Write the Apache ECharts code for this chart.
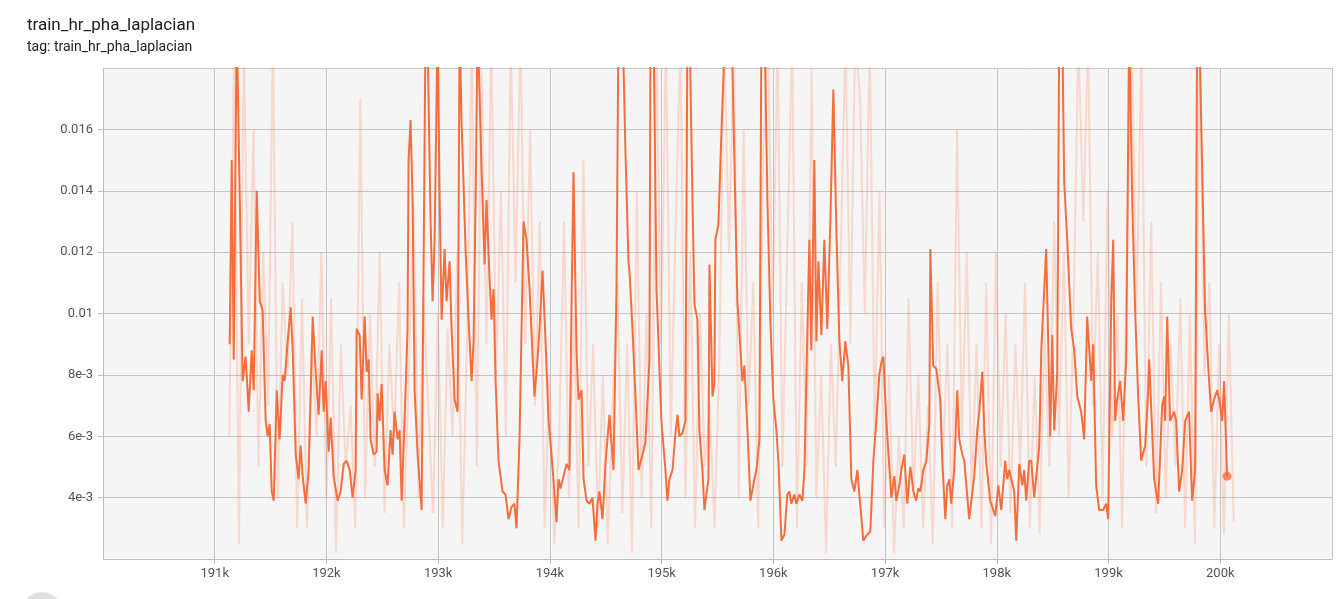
<!DOCTYPE html>
<html>
<head>
<meta charset="utf-8">
<script src="https://cdn.jsdelivr.net/npm/echarts@6/dist/echarts.min.js"></script>
<style>
  html, body { margin: 0; padding: 0; background: #fff; }
  #chart { width: 1342px; height: 599px; }
</style>
</head>
<body>
<div id="chart"></div>
<script>
const title = "train_hr_pha_laplacian";
const subtitle = "tag: train_hr_pha_laplacian";
const baseStep = 191000;

// smoothed line: step offsets from 191000
const smoothedSteps = [
  134, 152, 170, 197, 224, 250, 277, 304, 331, 349, 376, 403, 429, 456, 474, 492, 510, 528, 555, 581,
  608, 626, 653, 680, 698, 725, 751, 769, 787, 814, 841, 877, 903, 930, 957, 975, 993, 1020, 1038, 1064,
  1100, 1127, 1154, 1181, 1208, 1234, 1261, 1270, 1297, 1315, 1342, 1360, 1378, 1395, 1422, 1449, 1458, 1476, 1494, 1521,
  1547, 1574, 1592, 1610, 1637, 1655, 1673, 1700, 1726, 1735, 1753, 1771, 1789, 1816, 1852, 1887, 1905, 1932, 1950, 1968,
  1995, 2013, 2031, 2057, 2075, 2102, 2120, 2147, 2174, 2192, 2209, 2245, 2272, 2299, 2317, 2335, 2353, 2388, 2415, 2433,
  2460, 2478, 2496, 2514, 2540, 2576, 2603, 2630, 2657, 2683, 2701, 2728, 2764, 2791, 2818, 2845, 2862, 2889, 2907, 2934,
  2961, 2988, 3014, 3032, 3059, 3077, 3095, 3122, 3149, 3175, 3193, 3211, 3238, 3256, 3283, 3301, 3328, 3354, 3381, 3408,
  3426, 3444, 3471, 3497, 3533, 3569, 3596, 3614, 3650, 3676, 3703, 3712, 3739, 3766, 3793, 3828, 3855, 3891, 3900, 3927,
  3954, 3998, 4034, 4052, 4070, 4097, 4124, 4142, 4159, 4186, 4213, 4231, 4249, 4276, 4294, 4320, 4338, 4365, 4383, 4419,
  4428, 4455, 4472, 4481, 4508, 4535, 4571, 4625, 4678, 4723, 4741, 4768, 4795, 4830, 4848, 4875, 4893, 4920, 4947, 4973,
  5000, 5027, 5045, 5072, 5099, 5125, 5143, 5161, 5188, 5206, 5233, 5260, 5278, 5322, 5340, 5367, 5385, 5403, 5430, 5456,
  5483, 5510, 5537, 5564, 5591, 5617, 5644, 5671, 5698, 5725, 5752, 5770, 5805, 5841, 5868, 5895, 5922, 5948, 5966, 5984,
  6011, 6029, 6056, 6083, 6100, 6127, 6145, 6172, 6199, 6226, 6253, 6279, 6297, 6315, 6342, 6369, 6396, 6405, 6431, 6458,
  6494, 6512, 6539, 6557, 6575, 6592, 6619, 6646, 6664, 6691, 6709, 6753, 6798, 6825, 6843, 6870, 6888, 6906, 6941, 6986,
  7013, 7040, 7075, 7093, 7111, 7156, 7174, 7201, 7228, 7245, 7263, 7290, 7308, 7335, 7380, 7398, 7442, 7478, 7496, 7514,
  7541, 7559, 7585, 7603, 7630, 7666, 7693, 7720, 7755, 7782, 7809, 7845, 7863, 7889, 7916, 7952, 7979, 7997, 8024, 8042,
  8059, 8077, 8104, 8131, 8158, 8185, 8212, 8238, 8265, 8292, 8328, 8355, 8364, 8408, 8444, 8480, 8498, 8507, 8525, 8551,
  8587, 8605, 8632, 8659, 8686, 8721, 8748, 8775, 8793, 8811, 8838, 8864, 8900, 8918, 8945, 8972, 8990, 9017, 9034, 9061
];

// smoothed values, in units of 1e-3
const smoothed = [
  9.0, 15.0, 8.5, 19.5, 13.7, 7.8, 8.6, 6.8, 8.8, 7.5, 14.0, 10.4, 10.1, 6.5, 6.0, 6.4, 4.2, 3.9, 7.5, 5.9,
  8.0, 7.8, 9.1, 10.2, 8.8, 5.4, 4.6, 5.7, 4.7, 3.8, 4.9, 9.9, 8.1, 6.7, 8.8, 6.8, 7.8, 5.5, 6.6, 4.7,
  3.9, 4.2, 5.1, 5.2, 4.9, 4.0, 4.9, 9.5, 9.3, 7.2, 9.9, 8.1, 8.5, 5.9, 5.4, 5.5, 7.4, 6.5, 7.7, 4.9,
  4.4, 6.2, 5.4, 6.8, 5.9, 6.2, 3.9, 6.6, 9.5, 15.0, 16.3, 13.7, 7.5, 5.4, 3.6, 19.5, 19.0, 13.0, 10.4, 12.4,
  19.5, 13.7, 9.8, 12.1, 10.4, 11.7, 9.5, 7.2, 6.8, 19.5, 16.3, 12.1, 9.8, 7.8, 9.1, 13.7, 19.5, 14.7, 11.6, 13.7,
  11.1, 9.8, 10.8, 7.8, 5.2, 4.2, 4.1, 3.3, 3.7, 3.8, 3.0, 5.9, 13.0, 12.4, 10.8, 8.6, 7.3, 8.5, 9.5, 11.4,
  9.1, 6.5, 5.4, 4.6, 3.2, 4.6, 4.3, 4.7, 5.1, 4.9, 10.1, 14.6, 8.8, 7.2, 7.5, 4.6, 3.9, 3.8, 4.0, 2.6,
  3.8, 4.2, 3.3, 5.1, 6.7, 4.9, 10.8, 19.5, 19.5, 15.3, 11.7, 11.4, 9.5, 7.3, 4.9, 5.4, 5.8, 8.5, 19.0, 19.5,
  10.8, 6.5, 4.9, 3.9, 4.6, 4.9, 6.1, 6.7, 6.0, 6.1, 6.5, 19.5, 19.5, 13.7, 10.3, 9.8, 6.2, 4.9, 3.6, 4.6,
  11.6, 7.3, 7.7, 12.4, 12.9, 15.9, 19.5, 19.5, 10.4, 7.8, 8.3, 6.2, 3.9, 4.6, 4.9, 5.9, 19.5, 19.5, 13.7, 9.8,
  7.2, 6.2, 5.2, 2.6, 2.8, 4.1, 4.2, 3.8, 4.1, 3.8, 4.1, 3.9, 4.9, 12.4, 8.8, 15.0, 9.1, 11.7, 9.3, 12.4,
  9.5, 13.0, 17.3, 12.7, 9.1, 7.8, 9.1, 8.3, 4.6, 4.2, 4.9, 4.1, 2.6, 2.8, 2.9, 5.2, 6.5, 8.0, 8.4, 8.6,
  6.5, 5.5, 4.0, 4.7, 3.9, 4.4, 4.9, 5.4, 3.8, 5.0, 4.2, 3.9, 4.3, 4.2, 4.9, 5.2, 6.4, 12.1, 8.3, 8.2,
  7.2, 5.2, 3.3, 4.4, 4.6, 3.8, 4.9, 7.5, 5.9, 5.4, 5.2, 3.3, 4.7, 6.2, 6.8, 8.1, 6.2, 5.1, 3.9, 3.4,
  4.4, 3.6, 5.2, 4.6, 4.9, 4.2, 2.6, 5.1, 4.4, 4.9, 3.9, 5.2, 5.2, 4.0, 5.7, 8.8, 12.1, 6.0, 9.3, 6.2,
  8.1, 19.5, 19.5, 14.3, 12.4, 9.5, 8.8, 7.3, 6.8, 5.9, 9.9, 7.8, 9.0, 4.4, 3.6, 3.6, 3.8, 3.3, 10.4, 12.4,
  6.5, 7.2, 7.8, 6.5, 8.5, 19.5, 13.7, 10.1, 7.3, 5.2, 5.7, 7.5, 8.5, 4.6, 3.8, 7.0, 7.3, 6.5, 9.9, 6.5,
  6.8, 6.5, 4.2, 4.9, 6.5, 6.8, 3.9, 4.9, 19.5, 19.5, 14.7, 10.1, 7.8, 6.8, 7.2, 7.5, 7.2, 6.5, 7.8, 4.7
];

// raw values, in units of 1e-3, logged at even steps from 191130 to 200120
const rawFirstStep = 191130;
const rawLastStep = 200120;
const raw = [
  6.0, 18.5, 2.5, 19, 9, 16, 5, 12, 7, 19, 4, 11, 8, 13, 3,
  10.5, 3, 9, 6, 12, 4, 10.5, 2.2, 9, 5, 7, 3,
  17, 4, 10, 5, 12, 3.5, 9, 6, 11, 3, 8, 13.5, 4, 10.5,
  7, 3.5, 10, 3, 9.5, 6, 12, 2.5, 9, 19, 5, 18,
  9, 19, 8, 14, 6, 19, 11, 19, 9, 16, 7, 13,
  3, 8, 2.5, 6, 13, 4, 10, 3, 15, 5, 9,
  3, 8, 2.5, 7, 11, 3.5, 9, 2.2, 14, 4, 10,
  3, 19, 9, 19, 6, 13, 19, 4, 12, 3, 10, 5,
  7, 3, 8.5, 19, 12, 19, 4, 16, 7, 11, 3,
  15, 19, 10, 19, 5, 12, 19, 3, 11, 5, 18,
  4, 8, 2.2, 9, 5, 12, 19, 9, 19, 17,
  10, 19, 6, 14, 3, 8, 2.2, 6, 3, 10.5, 4,
  8, 3, 7, 2.5, 11, 5, 9, 3, 16, 6, 12,
  4, 9, 3, 11, 2.5, 12, 5, 10, 3.5, 9, 5,
  11, 3, 8, 2.8, 9.5, 5, 13, 6, 12, 4, 10,
  19, 13, 19, 7, 12, 4, 14, 6, 10, 3,
  12, 19, 10, 19, 5, 13, 3.5, 11, 4, 9,
  5, 10.5, 3, 10, 2.5, 19, 8, 11, 3, 9, 2.8, 10, 3.2
];

const pointCount = Math.min(smoothedSteps.length, smoothed.length);
const smoothedData = [];
for (let i = 0; i < pointCount; i++) {
  smoothedData.push([baseStep + smoothedSteps[i], smoothed[i] / 1000]);
}
const rawData = raw.map((v, i) => [
  Math.round(rawFirstStep + (i * (rawLastStep - rawFirstStep)) / (raw.length - 1)),
  v / 1000,
]);
const lastPoint = smoothedData[smoothedData.length - 1];

const formatY = (v) => {
  if (v >= 0.01) return String(+v.toFixed(3));
  return Math.round(v * 1000) + "e-3";
};

const chart = echarts.init(document.getElementById("chart"));
chart.setOption({
  animation: false,
  title: {
    text: title,
    subtext: subtitle,
    left: 22,
    top: 12,
    itemGap: 6,
    textStyle: { fontFamily: "Roboto", fontSize: 17, fontWeight: "normal", color: "#212121" },
    subtextStyle: { fontFamily: "Roboto", fontSize: 14, color: "#212121" },
  },
  grid: { left: 103, right: 10, top: 68, bottom: 40, show: true, backgroundColor: "#f5f5f5", borderWidth: 0 },
  xAxis: {
    type: "value",
    min: 190000,
    max: 201000,
    interval: 1000,
    axisLine: { show: true, lineStyle: { color: "#bdbdbd" } },
    axisTick: { show: true, lineStyle: { color: "#bdbdbd" } },
    axisLabel: {
      showMinLabel: false,
      showMaxLabel: false,
      color: "#555",
      fontFamily: "Roboto",
      fontSize: 13,
      formatter: (v) => v / 1000 + "k",
    },
    splitLine: { show: true, lineStyle: { color: "#c4c4c4" } },
  },
  yAxis: {
    type: "value",
    min: 0.002,
    max: 0.018,
    interval: 0.002,
    axisLine: { show: true, lineStyle: { color: "#bdbdbd" } },
    axisTick: { show: true, lineStyle: { color: "#bdbdbd" } },
    axisLabel: {
      showMinLabel: false,
      showMaxLabel: false,
      color: "#555",
      fontFamily: "Roboto",
      fontSize: 13,
      margin: 10,
      formatter: formatY,
    },
    splitLine: { show: true, lineStyle: { color: "#c4c4c4" } },
  },
  graphic: [
    {
      type: "text",
      left: 675,
      top: 303,
      style: { text: "Alt + Scroll to Zoom", fill: "rgba(255,255,255,0.6)", font: "20px Roboto" },
    },
    { type: "circle", shape: { cx: 42, cy: 612, r: 20 }, style: { fill: "#e0e0e0" } },
  ],
  series: [
    {
      type: "line",
      data: rawData,
      showSymbol: false,
      lineStyle: { color: "rgba(255,112,67,0.22)", width: 2 },
      z: 1,
    },
    {
      type: "line",
      data: smoothedData,
      showSymbol: false,
      lineStyle: { color: "#f46d3c", width: 2 },
      z: 2,
    },
    {
      type: "scatter",
      data: [lastPoint],
      symbolSize: 9,
      itemStyle: { color: "#f46d3c" },
      z: 3,
    },
  ],
});
</script>
</body>
</html>
